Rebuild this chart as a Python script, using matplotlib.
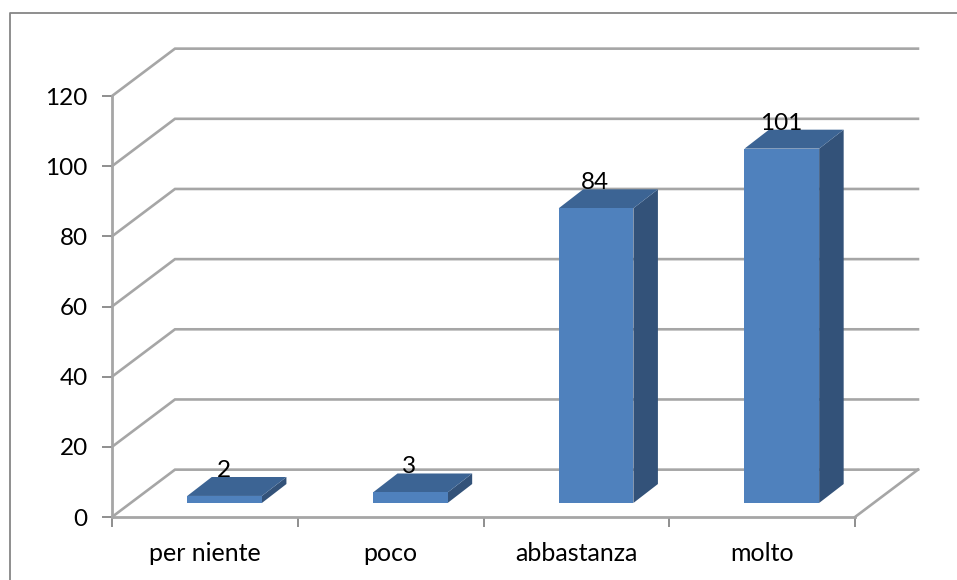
"""3D-look column chart drawn on flat axes: the depth is a shear in data units."""
import matplotlib
matplotlib.use("Agg")
import matplotlib.pyplot as plt
from matplotlib.lines import Line2D
from matplotlib.patches import Polygon, Rectangle

categories = ["per niente", "poco", "abbastanza", "molto"]
values = [2, 3, 84, 101]
y_ticks = [0, 20, 40, 60, 80, 100, 120]

W, H = 957, 580
GRID = "#a6a6a6"
FRONT = "#4f81bd"
TOP = "#3c6494"
SIDE = "#335279"
BORDER = "#868686"

# wall depth and bar geometry, in axis units (categories / values)
WALL_DX, WALL_DY = 0.339, 13.5
BAR_W = 0.402
BAR_DX, BAR_DY = 0.132, 5.4
BAR_SHIFT = 0.106
BASE_Y = 4.0

plt.rcParams["font.family"] = ["Lato", "DejaVu Sans"]

fig = plt.figure(figsize=(W / 100, H / 100), dpi=100)
# chart frame: left and top edges only, the rest is cropped off
fig.add_artist(Line2D([9.5 / W, 9.5 / W, 1], [0, (H - 12.5) / H, (H - 12.5) / H],
                      transform=fig.transFigure, color=BORDER, lw=1.3))

ax = fig.add_axes([112 / W, (H - 517) / H, 743 / W, 421 / H])
ax.set_xlim(0, len(categories))
ax.set_ylim(y_ticks[0], y_ticks[-1])
ax.patch.set_visible(False)

for s in ("top", "right"):
    ax.spines[s].set_visible(False)
for s in ("left", "bottom"):
    ax.spines[s].set_color(GRID)
    ax.spines[s].set_linewidth(2)

ax.set_yticks(y_ticks)
ax.set_xticks(range(len(categories) + 1))
ax.set_xticklabels([])
ax.set_xticks([i + 0.5 for i in range(len(categories))], categories, minor=True)
ax.tick_params(axis="both", which="major", color=BORDER, width=1.3, length=7)
ax.tick_params(axis="x", which="minor", length=0, pad=18, labelsize=18)
ax.tick_params(axis="y", which="major", pad=10.5, labelsize=17.5)

# back wall gridlines with their slanted returns to the y axis
n = len(categories)
for v in y_ticks:
    ax.plot([0, WALL_DX, n + WALL_DX], [v, v + WALL_DY, v + WALL_DY],
            color=GRID, lw=1.9, clip_on=False, zorder=1, solid_joinstyle="miter")
ax.plot([n, n + WALL_DX], [0, WALL_DY], color=GRID, lw=1.9, clip_on=False, zorder=1)

# columns
for i, v in enumerate(values):
    x0 = i + 0.5 - BAR_W / 2 + BAR_SHIFT
    x1 = x0 + BAR_W
    y1 = BASE_Y + v
    ax.add_patch(Polygon([(x1, BASE_Y), (x1 + BAR_DX, BASE_Y + BAR_DY),
                          (x1 + BAR_DX, y1 + BAR_DY), (x1, y1)],
                         fc=SIDE, ec="none", clip_on=False, zorder=3))
    ax.add_patch(Polygon([(x0, y1), (x1, y1), (x1 + BAR_DX, y1 + BAR_DY), (x0 + BAR_DX, y1 + BAR_DY)],
                         fc=TOP, ec="none", clip_on=False, zorder=3))
    ax.add_patch(Rectangle((x0, BASE_Y), BAR_W, v, fc=FRONT, ec="none", clip_on=False, zorder=4))
    ax.text(x0 + BAR_W / 2 - 0.005, y1 + BAR_DY + 1.9, str(v), ha="center", va="center",
            fontsize=17.5, color="black", clip_on=False, zorder=5)

fig.savefig("out.png", dpi=100)
